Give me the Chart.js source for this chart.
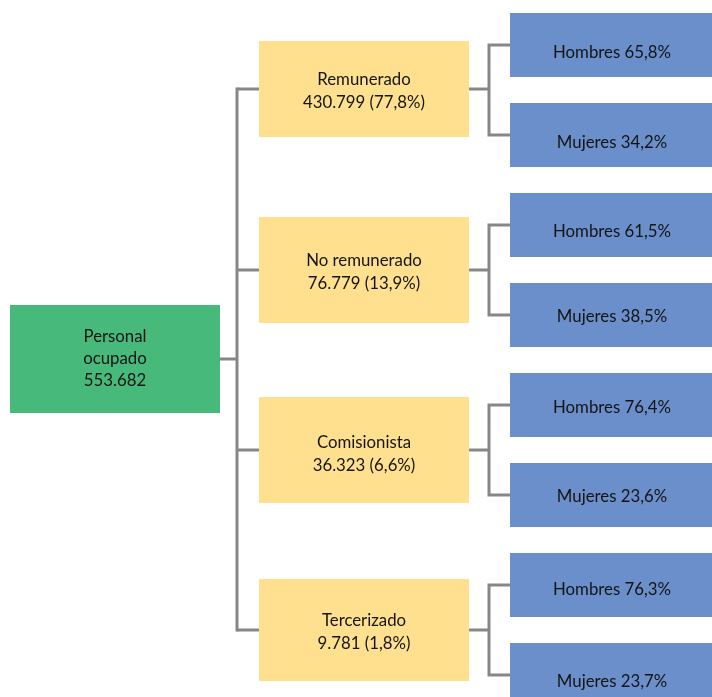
<!DOCTYPE html>
<html>
<head>
<meta charset="utf-8">
<script src="https://cdn.jsdelivr.net/npm/chart.js@4/dist/chart.umd.min.js"></script>
<style>
  html, body { margin: 0; padding: 0; background: #ffffff; }
  #wrap { width: 712px; height: 697px; }
</style>
</head>
<body>
<div id="wrap"><canvas id="c" width="712" height="697"></canvas></div>
<script>
// ---- Data ----
const rootLabel = ['Personal', 'ocupado'];
const totalEmployed = 553682;
const categories = ['Remunerado', 'No remunerado', 'Comisionista', 'Tercerizado'];
const counts = [430799, 76779, 36323, 9781];
const shares = [77.8, 13.9, 6.6, 1.8];
const menShare = [65.8, 61.5, 76.4, 76.3];
const womenShare = [34.2, 38.5, 23.6, 23.7];
const genderLabels = ['Hombres', 'Mujeres'];

// ---- Layout (positions in scale units) ----
const LAYOUT = {
  root: { x0: 10, x1: 220, y0: 305, y1: 413 },
  mid: { x0: 259, x1: 469, tops: [41, 217, 397, 579], bots: [137, 323, 503, 681], textDy: [0, 0, 2, 0] },
  leaf: { x0: 510, x1: 712, tops: [[13, 103], [193, 283], [373, 463], [553, 643]], h: 64,
          textDy: [[8, 8], [6.5, 1.5], [3, 1.5], [5, 6.5]] },
  trunkX: 237,
  branchX: 489
};
const STYLE = {
  green: '#47BA7B',
  yellow: '#FEE08F',
  blue: '#6A8FCB',
  line: '#878787',
  text: '#141414',
  family: 'Lato, "Noto Sans", sans-serif'
};

const fmtInt = n => String(n).replace(/\B(?=(\d{3})+(?!\d))/g, '.');
const fmtPct = v => v.toFixed(1).replace('.', ',') + '%';

const treePlugin = {
  id: 'tree',
  afterDatasetsDraw(chart) {
    const ctx = chart.ctx;
    const xs = chart.scales.x, ys = chart.scales.y;
    const X = v => xs.getPixelForValue(v);
    const Y = v => ys.getPixelForValue(v);

    // font size fitted so that a reference string matches its measured width
    ctx.save();
    ctx.font = '18px ' + STYLE.family;
    const w18 = ctx.measureText('Hombres 65,8%').width;
    const fs = Math.round(18 * (X(118) - X(0)) / w18 * 10) / 10;
    ctx.restore();

    const rect = (x0, y0, x1, y1, color) => {
      ctx.fillStyle = color;
      const px0 = X(x0), px1 = X(x1), py0 = Y(y0), py1 = Y(y1);
      ctx.fillRect(px0, py0, px1 - px0, py1 - py0);
    };
    const text = (str, x, y) => {
      ctx.fillStyle = STYLE.text;
      ctx.font = fs + 'px ' + STYLE.family;
      ctx.textAlign = 'center';
      ctx.textBaseline = 'middle';
      ctx.fillText(str, X(x), Y(y));
    };
    const seg = (pts) => {
      ctx.beginPath();
      ctx.moveTo(X(pts[0][0]), Y(pts[0][1]));
      for (let i = 1; i < pts.length; i++) ctx.lineTo(X(pts[i][0]), Y(pts[i][1]));
      ctx.stroke();
    };

    ctx.save();
    // connectors
    ctx.strokeStyle = STYLE.line;
    ctx.lineWidth = 3;
    ctx.lineCap = 'butt';
    ctx.lineJoin = 'miter';
    const r = LAYOUT.root, m = LAYOUT.mid, lf = LAYOUT.leaf;
    const rootMid = (r.y0 + r.y1) / 2;
    const midC = m.tops.map((t, i) => (t + m.bots[i]) / 2);
    seg([[r.x1, rootMid], [LAYOUT.trunkX, rootMid]]);
    seg([[LAYOUT.trunkX, midC[0] - 1.5], [LAYOUT.trunkX, midC[midC.length - 1] + 1.5]]);
    midC.forEach((c, i) => {
      seg([[LAYOUT.trunkX, c], [m.x0, c]]);
      seg([[m.x1, c], [LAYOUT.branchX, c]]);
      const a = lf.tops[i][0] + lf.h / 2, b = lf.tops[i][1] + lf.h / 2;
      seg([[lf.x0, a], [LAYOUT.branchX, a], [LAYOUT.branchX, b], [lf.x0, b]]);
    });

    // root box
    rect(r.x0, r.y0, r.x1, r.y1, STYLE.green);
    const rcx = (r.x0 + r.x1) / 2;
    const rootLines = rootLabel.concat([fmtInt(totalEmployed)]);
    rootLines.forEach((s, k) => text(s, rcx, rootMid - 22 + k * 22));

    // category boxes
    const mcx = (m.x0 + m.x1) / 2;
    categories.forEach((cat, i) => {
      rect(m.x0, m.tops[i], m.x1, m.bots[i], STYLE.yellow);
      text(cat, mcx, midC[i] - 9 + m.textDy[i]);
      text(fmtInt(counts[i]) + ' (' + fmtPct(shares[i]) + ')', mcx, midC[i] + 14 + m.textDy[i]);
    });

    // gender boxes
    const lcx = (lf.x0 + lf.x1) / 2;
    categories.forEach((cat, i) => {
      const vals = [menShare[i], womenShare[i]];
      vals.forEach((v, j) => {
        const t = lf.tops[i][j];
        rect(lf.x0, t, lf.x1, t + lf.h, STYLE.blue);
        text(genderLabels[j] + ' ' + fmtPct(v), lcx + 1, t + lf.h / 2 + lf.textDy[i][j]);
      });
    });
    ctx.restore();
  }
};

new Chart(document.getElementById('c'), {
  type: 'scatter',
  data: { datasets: [{ data: [], pointRadius: 0 }] },
  options: {
    responsive: false,
    devicePixelRatio: 1,
    animation: false,
    layout: { padding: 0 },
    plugins: { legend: { display: false }, tooltip: { enabled: false }, title: { display: false } },
    scales: {
      x: { type: 'linear', min: 0, max: 712, display: false },
      y: { type: 'linear', min: 0, max: 697, reverse: true, display: false }
    }
  },
  plugins: [treePlugin]
});
</script>
</body>
</html>
